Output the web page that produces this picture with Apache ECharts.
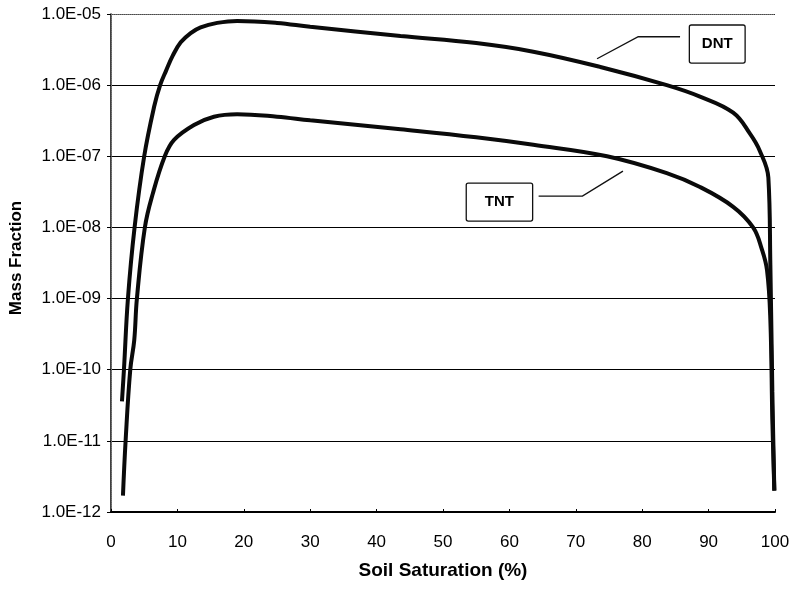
<!DOCTYPE html>
<html>
<head>
<meta charset="utf-8">
<script src="https://cdn.jsdelivr.net/npm/echarts@6/dist/echarts.min.js"></script>
<style>
  html, body { margin: 0; padding: 0; background: #fff; }
  #main { width: 793px; height: 589px; }
</style>
</head>
<body>
<div id="main"></div>
<script>
// soil saturation (%) and mass fraction
const dntX = [1.65, 1.95, 2.55, 3.55, 5.0, 6.5, 7.4, 8.3, 9.3, 10.5, 12, 13.5, 16, 19, 25, 30, 43.6, 55, 63.6, 73.7, 83.7, 88.7, 93.7, 96.2, 97.7, 99, 99.3, 99.6, 99.9];
const dntY = [3.6e-11, 1e-10, 1e-9, 1e-8, 1e-7, 5e-7, 1e-6, 1.6e-6, 2.6e-6, 4e-6, 5.4e-6, 6.5e-6, 7.5e-6, 8e-6, 7.5e-6, 6.6e-6, 4.9e-6, 3.9e-6, 2.95e-6, 1.8e-6, 1e-6, 6.9e-7, 4.1e-7, 2.1e-7, 1.2e-7, 5e-8, 3e-9, 5e-11, 2e-12];

const tntX = [1.8, 2.2, 2.9, 3.5, 3.9, 5.1, 6.3, 8.1, 9.5, 12.5, 15.5, 19, 25, 30, 43.6, 55, 63.6, 74.7, 83.7, 88.7, 93.7, 96.7, 98, 98.8, 99.3, 99.6, 99.9];
const tntY = [1.7e-12, 1e-11, 1e-10, 2.6e-10, 1e-9, 1e-8, 3e-8, 1e-7, 1.7e-7, 2.75e-7, 3.6e-7, 3.9e-7, 3.6e-7, 3.2e-7, 2.4e-7, 1.85e-7, 1.45e-7, 1e-7, 5.8e-8, 3.7e-8, 1.95e-8, 1e-8, 5e-9, 2.5e-9, 5e-10, 2e-11, 2e-12];

const xTicks = [0, 10, 20, 30, 40, 50, 60, 70, 80, 90, 100];

function pairs(xs, ys) {
  return xs.map((x, i) => [x, ys[i]]);
}

// 1.0E-05 style labels
function sciLabel(v) {
  const e = Math.round(Math.log10(v));
  const s = Math.abs(e) < 10 ? '0' + Math.abs(e) : '' + Math.abs(e);
  return '1.0E' + (e < 0 ? '-' : '+') + s;
}

const font = 'Liberation Sans, Arial, sans-serif';
const chart = echarts.init(document.getElementById('main'));

const lineSeries = (name, data) => ({
  name: name,
  type: 'line',
  data: data,
  showSymbol: false,
  smooth: 0.4,
  lineStyle: { color: '#0a0a0a', width: 4 },
  z: 5
});

chart.setOption({
  animation: false,
  backgroundColor: '#fff',
  grid: { left: 110, right: 18, top: 14, bottom: 77 },
  xAxis: [{
    type: 'value',
    min: 0,
    max: 100,
    interval: 10,
    name: 'Soil Saturation (%)',
    nameLocation: 'middle',
    nameGap: 49,
    nameTextStyle: { fontFamily: font, fontSize: 19, fontWeight: 'bold', color: '#000' },
    axisLine: { lineStyle: { color: '#000', width: 2 } },
    axisTick: { inside: true, length: 3, lineStyle: { color: '#000' } },
    axisLabel: { fontFamily: font, fontSize: 17, color: '#000', margin: 22,
      formatter: v => xTicks.includes(v) ? String(v) : '' },
    splitLine: { show: false }
  }, {
    type: 'value',
    position: 'top',
    min: 0,
    max: 100,
    axisLine: { show: true, lineStyle: { color: '#777', width: 1, type: 'dotted' } },
    axisTick: { show: false },
    axisLabel: { show: false },
    splitLine: { show: false }
  }],
  yAxis: [{
    type: 'log',
    logBase: 10,
    min: 1e-12,
    max: 1e-5,
    name: 'Mass Fraction',
    nameLocation: 'middle',
    nameGap: 86,
    nameTextStyle: { fontFamily: font, fontSize: 17, fontWeight: 'bold', color: '#000', padding: [0, 0, 0, 10] },
    axisLine: { show: true, lineStyle: { color: '#000', width: 1.5 } },
    axisTick: { show: true, length: 4, lineStyle: { color: '#000' } },
    axisLabel: { fontFamily: font, fontSize: 17, color: '#000', margin: 10, formatter: sciLabel },
    splitLine: { show: true, lineStyle: { color: '#000', width: 1 } }
  }, {
    type: 'value',
    position: 'right',
    min: 0,
    max: 1,
    axisLine: { show: true, lineStyle: { color: '#777', width: 1, type: 'dotted' } },
    axisTick: { show: false },
    axisLabel: { show: false },
    splitLine: { show: false }
  }],
  series: [
    lineSeries('DNT', pairs(dntX, dntY)),
    lineSeries('TNT', pairs(tntX, tntY))
  ]
});

// callout boxes with leader lines, anchored in data coordinates
const callouts = [
  { text: 'DNT', box: [87.1, 7e-6, 95.5, 2.04e-6], leader: [[73.2, 2.35e-6], [79.4, 4.8e-6], [85.7, 4.8e-6]] },
  { text: 'TNT', box: [53.5, 4.2e-8, 63.5, 1.23e-8], leader: [[64.4, 2.75e-8], [71.0, 2.75e-8], [77.1, 6.2e-8]] }
];

const px = p => chart.convertToPixel({ xAxisIndex: 0, yAxisIndex: 0 }, p);
const graphics = [];
callouts.forEach(c => {
  const a = px([c.box[0], c.box[1]]);
  const b = px([c.box[2], c.box[3]]);
  graphics.push({
    type: 'rect',
    shape: { x: a[0], y: a[1], width: b[0] - a[0], height: b[1] - a[1], r: 2 },
    style: { fill: '#fff', stroke: '#111', lineWidth: 1.3 },
    z: 10
  });
  graphics.push({
    type: 'text',
    x: (a[0] + b[0]) / 2,
    y: (a[1] + b[1]) / 2,
    style: { text: c.text, fill: '#000', font: 'bold 15px ' + font, textAlign: 'center', textVerticalAlign: 'middle' },
    z: 11
  });
  graphics.push({
    type: 'polyline',
    shape: { points: c.leader.map(px) },
    style: { stroke: '#111', lineWidth: 1.4, fill: null },
    z: 10
  });
});
chart.setOption({ graphic: graphics });
</script>
</body>
</html>
